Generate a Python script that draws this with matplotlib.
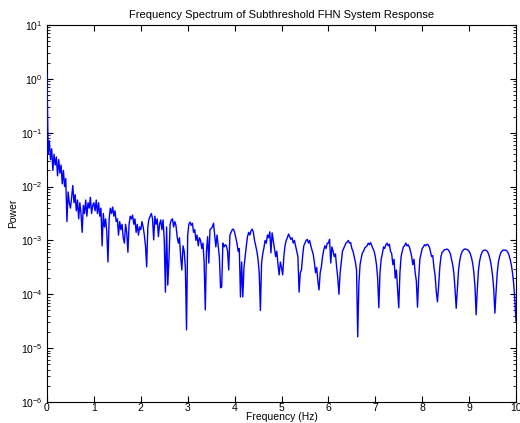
import numpy as np
import matplotlib
matplotlib.use('Agg')
import matplotlib.pyplot as plt

plt.rcParams['font.family'] = ['Liberation Sans', 'DejaVu Sans']

# log10 of power, one row per 0.5 Hz (step 0.025 Hz)
power_exp = [
    0.1, -1.4, -1.15, -1.5, -1.3, -1.7, -1.4, -1.6, -1.45, -1.8,
    -1.5, -1.75, -1.6, -1.95, -1.7, -2.0, -1.85, -2.65, -2.1, -2.3,
    -2.4, -2.2, -1.98, -2.3, -2.15, -2.45, -2.25, -2.6, -2.3, -2.5,
    -2.85, -2.35, -2.5, -2.25, -2.55, -2.3, -2.4, -2.2, -2.5, -2.35,
    -2.3, -2.45, -2.25, -2.5, -2.3, -2.55, -2.4, -3.1, -2.5, -2.75,
    -2.6, -2.85, -3.4, -2.6, -2.4, -2.5, -2.38, -2.55, -2.45, -2.65,
    -2.6, -2.9, -2.65, -2.8, -2.7, -2.95, -3.05, -2.7, -2.85, -3.22,
    -2.7, -2.55, -2.6, -2.53, -2.7, -2.6, -2.85, -2.7, -2.9, -2.75,
    -2.8, -2.65, -2.75, -2.9, -3.1, -3.49, -2.75, -2.6, -2.55, -2.5,
    -2.6, -2.99, -2.55, -2.7, -2.6, -2.93, -2.7, -2.62, -2.8, -2.62,
    -3.0, -3.96, -2.75, -3.83, -3.36, -2.7, -2.62, -2.6, -2.75, -2.65,
    -2.72, -2.93, -3.05, -2.95, -3.3, -3.55, -3.1, -3.2, -3.5, -4.66,
    -2.9, -2.7, -2.66, -2.72, -2.68, -2.85, -2.8, -3.0, -2.9, -3.1,
    -2.95, -3.0, -3.15, -3.05, -3.4, -4.29, -3.2, -2.93, -3.42, -2.8,
    -2.78, -2.75, -2.68, -2.9, -3.12, -2.9, -3.1, -3.3, -3.88, -3.86,
    -3.05, -3.12, -3.08, -3.1, -3.2, -3.55, -2.9, -2.85, -2.8, -2.79,
    -2.85, -2.95, -3.05, -3.2, -3.15, -4.05, -3.4, -4.05, -3.5, -3.3,
    -3.1, -2.93, -2.85, -2.9, -2.82, -2.79, -2.85, -3.0, -3.1, -3.2,
    -3.35, -3.6, -4.3, -3.42, -3.25, -3.14, -3.0, -3.05, -2.9, -2.95,
    -2.84, -3.23, -2.86, -3.0, -3.15, -3.3, -3.2, -3.45, -3.64, -3.4,
    -3.5, -3.64, -3.3, -3.1, -3.0, -2.95, -2.88, -2.93, -2.98, -2.95,
    -3.05, -3.0, -3.1, -3.2, -3.3, -3.96, -3.6, -3.55, -3.3, -3.1,
    -3.05, -3.0, -2.98, -3.05, -3.0, -3.1, -3.18, -3.25, -3.4, -3.6,
    -3.5, -3.75, -3.92, -3.6, -3.49, -3.3, -3.18, -3.1, -3.15, -3.05,
    -3.05, -2.98, -3.42, -3.12, -3.2, -3.3, -3.25, -3.49, -3.7, -4.0,
    -3.6, -3.4, -3.2, -3.15, -3.1, -3.05, -3.03, -3.0, -3.05, -3.04,
    -3.15, -3.2, -3.3, -3.4, -3.55, -4.79, -3.8, -3.45, -3.33, -3.23,
    -3.2, -3.14, -3.12, -3.1, -3.05, -3.08, -3.04, -3.1, -3.15, -3.2,
    -3.3, -3.45, -3.7, -4.25, -3.6, -3.35, -3.25, -3.12, -3.15, -3.08,
    -3.05, -3.1, -3.07, -3.2, -3.25, -3.45, -3.35, -3.7, -3.55, -3.9,
    -4.25, -3.6, -3.3, -3.2, -3.12, -3.1, -3.05, -3.1, -3.08, -3.12,
    -3.2, -3.3, -3.45, -3.35, -3.6, -3.75, -4.24, -3.7, -3.35, -3.25,
    -3.15, -3.12, -3.08, -3.1, -3.07, -3.08, -3.12, -3.2, -3.3, -3.28,
    -3.5, -3.65, -3.95, -4.14, -3.85, -3.5, -3.3, -3.22, -3.2, -3.17,
    -3.17, -3.16, -3.17, -3.2, -3.25, -3.35, -3.45, -3.6, -3.9, -4.26,
    -3.9, -3.55, -3.38, -3.27, -3.21, -3.18, -3.16, -3.16, -3.17, -3.18,
    -3.2, -3.25, -3.32, -3.42, -3.58, -3.85, -4.38, -3.9, -3.55, -3.38,
    -3.28, -3.22, -3.19, -3.18, -3.18, -3.19, -3.22, -3.28, -3.36, -3.48,
    -3.65, -3.9, -4.35, -3.95, -3.6, -3.4, -3.3, -3.23, -3.2, -3.18,
    -3.18, -3.18, -3.19, -3.22, -3.27, -3.35, -3.45, -3.6, -3.8, -4.1,
    -4.5,
]

freq = np.linspace(0, 10, len(power_exp))
power = 10.0 ** np.array(power_exp)

fig = plt.figure(figsize=(5.2, 4.23), dpi=100)
ax = fig.add_axes([47/520, 1 - 402/423, 469/520, 377/423])
ax.semilogy(freq, power, color='blue', linewidth=1.0, zorder=3)

ax.set_xlim(0, 10)
ax.set_ylim(1e-6, 1e1)
ax.set_xticks(range(0, 11))
ax.set_yticks([10.0 ** k for k in range(-6, 2)])
ax.tick_params(which='both', direction='in', top=True, right=True, labelsize=7.5)
ax.tick_params(which='major', length=4)
ax.tick_params(which='minor', length=2)
ax.tick_params(axis='x', pad=1)
ax.tick_params(axis='y', pad=3)

ax.set_title('Frequency Spectrum of Subthreshold FHN System Response', fontsize=8, pad=5)
ax.set_xlabel('Frequency (Hz)', fontsize=7.5, labelpad=-1)
ax.set_ylabel('Power', fontsize=7.5, labelpad=2)

fig.savefig('out.png', dpi=100)
